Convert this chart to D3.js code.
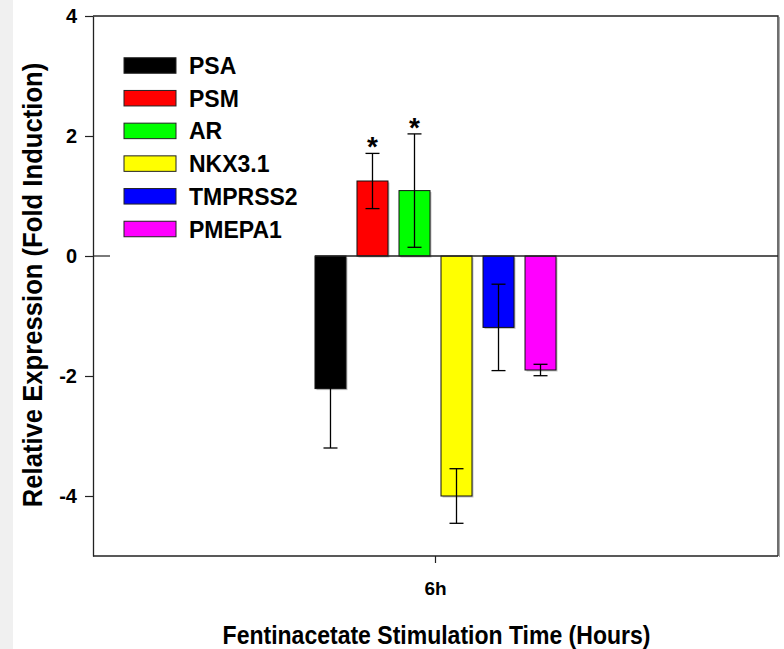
<!DOCTYPE html>
<html>
<head>
<meta charset="utf-8">
<script src="https://cdn.jsdelivr.net/npm/d3@7"></script>
<style>
  body { margin: 0; background: #fff; }
  svg { display: block; font-family: "Liberation Sans", Arial, sans-serif; }
</style>
</head>
<body>
<div id="chart-area"></div>
<script>
// data
let genes = ["PSA", "PSM", "AR", "NKX3.1", "TMPRSS2", "PMEPA1"];
let values = [-2.21, 1.25, 1.09, -4.0, -1.19, -1.90];
let errors = [0.99, 0.46, 0.945, 0.455, 0.72, 0.095];
let stars = ["", "*", "*", "", "", ""];
let colors = ["#000000", "#ff0000", "#00ff00", "#ffff00", "#0000ff", "#ff00ff"];
let timepoints = ["6h"];
let yTicks = [4, 2, 0, -2, -4];

let W = 784, H = 649;
let plotLeft = 93, plotRight = 778, plotTop = 16, plotBottom = 556;

let svg = d3.select("#chart-area").append("svg")
    .attr("width", W)
    .attr("height", H);

// light strip at the left edge of the original image
svg.append("rect").attr("x", 0).attr("y", 0).attr("width", 13).attr("height", H).attr("fill", "#f0f0f0");

// scales
let y = d3.scaleLinear().domain([-5, 4]).range([plotBottom, plotTop]);
let x0 = d3.scaleBand().domain(timepoints).range([plotLeft, plotRight]).paddingInner(0).paddingOuter(0.921);
let x1 = d3.scaleBand().domain(genes).range([0, x0.bandwidth()]).paddingInner(0.262).paddingOuter(0);

let data = genes.map((g, i) => ({gene: g, value: values[i], err: errors[i], star: stars[i], color: colors[i], time: timepoints[0]}));

// frame (top and right, with light shadow)
svg.append("path")
    .attr("d", `M${plotRight + 1.5},${plotTop + 1}V${plotBottom + 1}`)
    .attr("stroke", "#aaa").attr("stroke-width", 1).attr("fill", "none");
svg.append("path")
    .attr("d", `M${plotLeft},${plotTop}H${plotRight}V${plotBottom}`)
    .attr("stroke", "#222").attr("stroke-width", 1.3).attr("fill", "none");

// axes
let yAxis = d3.axisLeft(y).tickValues(yTicks).tickSize(8).tickSizeOuter(0).tickPadding(8)
    .tickFormat(d => String(d));
let yAxisGroup = svg.append("g")
    .attr("class", "y-axis axis")
    .attr("transform", "translate(" + plotLeft + ",0)")
    .call(yAxis);
yAxisGroup.select(".domain").attr("stroke", "#222").attr("stroke-width", 1.3);
yAxisGroup.selectAll(".tick line").attr("stroke", "#222").attr("stroke-width", 1.2);
yAxisGroup.selectAll(".tick text")
    .attr("font-size", 20).attr("font-weight", "bold").attr("fill", "#000")
    .attr("font-family", "'Liberation Sans', Arial, sans-serif");

let xAxis = d3.axisBottom(x0).tickSize(7).tickSizeOuter(0).tickPadding(19);
let xAxisGroup = svg.append("g")
    .attr("class", "x-axis axis")
    .attr("transform", "translate(0," + plotBottom + ")")
    .call(xAxis);
xAxisGroup.select(".domain").attr("d", `M${plotLeft},0H${plotRight}`).attr("stroke", "#222").attr("stroke-width", 1.3);
xAxisGroup.selectAll(".tick line").attr("stroke", "#222").attr("stroke-width", 1.2);
xAxisGroup.selectAll(".tick text")
    .attr("font-size", 19).attr("font-weight", "bold").attr("fill", "#000")
    .attr("font-family", "'Liberation Sans', Arial, sans-serif");

// short zero stub next to the axis
svg.append("line")
    .attr("x1", plotLeft).attr("x2", plotLeft + 17)
    .attr("y1", y(0)).attr("y2", y(0))
    .attr("stroke", "#222").attr("stroke-width", 1.2);

let group = svg.append("g")
    .attr("transform", "translate(" + x0(timepoints[0]) + ",0)");

// bar shadows
group.selectAll("rect.shadow")
    .data(data)
    .enter().append("rect")
    .attr("class", "shadow")
    .attr("x", d => x1(d.gene) + 1.5)
    .attr("y", d => Math.min(y(d.value), y(0)) + 1.5)
    .attr("width", x1.bandwidth())
    .attr("height", d => Math.abs(y(d.value) - y(0)))
    .attr("fill", "#999").attr("opacity", 0.6);

// bars
group.selectAll("rect.bar")
    .data(data)
    .enter().append("rect")
    .attr("class", "bar")
    .attr("x", d => x1(d.gene))
    .attr("y", d => Math.min(y(d.value), y(0)))
    .attr("width", x1.bandwidth())
    .attr("height", d => Math.abs(y(d.value) - y(0)))
    .attr("fill", d => d.color)
    .attr("stroke", "#111").attr("stroke-width", 1);

// zero line across the bars
svg.append("line")
    .attr("x1", x0(timepoints[0])).attr("x2", plotRight)
    .attr("y1", y(0)).attr("y2", y(0))
    .attr("stroke", "#222").attr("stroke-width", 1.3);

// error bars
let capW = 7;
let eb = group.selectAll("g.err")
    .data(data)
    .enter().append("g")
    .attr("class", "err")
    .attr("stroke", "#000").attr("stroke-width", 1.3);
eb.append("line")
    .attr("x1", d => x1(d.gene) + x1.bandwidth() / 2)
    .attr("x2", d => x1(d.gene) + x1.bandwidth() / 2)
    .attr("y1", d => y(d.value + d.err))
    .attr("y2", d => y(d.value - d.err));
eb.append("line")
    .attr("x1", d => x1(d.gene) + x1.bandwidth() / 2 - capW)
    .attr("x2", d => x1(d.gene) + x1.bandwidth() / 2 + capW)
    .attr("y1", d => y(d.value + d.err))
    .attr("y2", d => y(d.value + d.err));
eb.append("line")
    .attr("x1", d => x1(d.gene) + x1.bandwidth() / 2 - capW)
    .attr("x2", d => x1(d.gene) + x1.bandwidth() / 2 + capW)
    .attr("y1", d => y(d.value - d.err))
    .attr("y2", d => y(d.value - d.err));

// significance stars
group.selectAll("text.star")
    .data(data.filter(d => d.star))
    .enter().append("text")
    .attr("class", "star")
    .attr("x", d => x1(d.gene) + x1.bandwidth() / 2)
    .attr("y", d => y(d.value + d.err) + 3)
    .attr("text-anchor", "middle")
    .attr("font-size", 28).attr("font-weight", "bold")
    .text(d => d.star);

// legend
let legend = svg.append("g").attr("transform", "translate(124,65.5)");
let rows = legend.selectAll("g")
    .data(data)
    .enter().append("g")
    .attr("transform", (d, i) => "translate(0," + (i * 32.7) + ")");
rows.append("rect")
    .attr("x", 0).attr("y", -7.75)
    .attr("width", 52).attr("height", 15.5)
    .attr("fill", d => d.color)
    .attr("stroke", "#222").attr("stroke-width", 1);
rows.append("text")
    .attr("x", 65).attr("y", 8.5)
    .attr("font-size", 23).attr("font-weight", "bold")
    .text(d => d.gene);

// axis titles
svg.append("text")
    .attr("transform", "translate(41.5,285) rotate(-90) scale(0.95,1)")
    .attr("text-anchor", "middle")
    .attr("font-size", 27).attr("font-weight", "bold")
    .text("Relative Expression (Fold Induction)");

svg.append("text")
    .attr("transform", "translate(436.5,644) scale(0.885,1)")
    .attr("text-anchor", "middle")
    .attr("font-size", 26).attr("font-weight", "bold")
    .text("Fentinacetate Stimulation Time (Hours)");
</script>
</body>
</html>
